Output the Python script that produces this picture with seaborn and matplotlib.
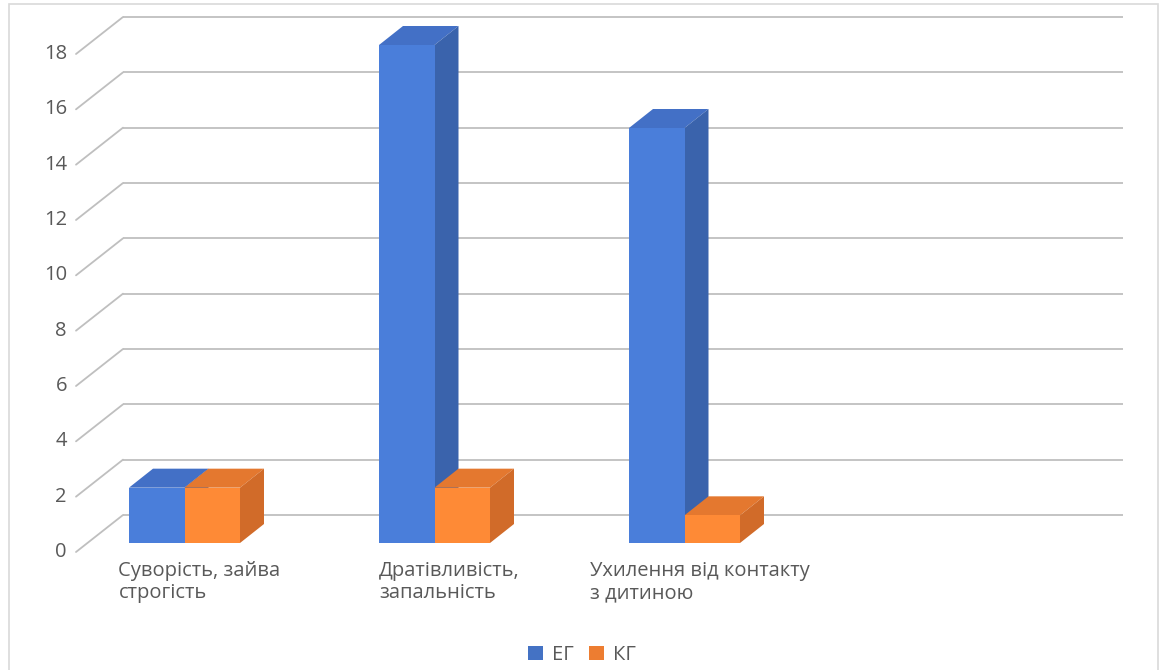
import numpy as np
import pandas as pd
import matplotlib
matplotlib.use("Agg")
import matplotlib.pyplot as plt
import seaborn as sns
from matplotlib.transforms import ScaledTranslation, IdentityTransform
from matplotlib.patches import Polygon, ConnectionPatch, Rectangle, Patch

# ---- data ----
categories = ["Суворість, зайва\nстрогість",
              "Дратівливість,\nзапальність",
              "Ухилення від контакту\nз дитиною"]
series = ["ЕГ", "КГ"]
eg_values = [2, 18, 15]
kg_values = [2, 2, 1]
y_ticks = [0, 2, 4, 6, 8, 10, 12, 14, 16, 18]

front_colors = ["#4A7EDA", "#FE8A36"]
top_colors = ["#4370C6", "#E4782F"]
side_colors = ["#3A63AC", "#D16B29"]
legend_colors = ["#4472C4", "#ED7D31"]
text_color = "#595959"
grid_color = "#BFBFBF"
FS = 14.5

df = pd.DataFrame({
    "category": categories * 2,
    "group": [series[0]] * 3 + [series[1]] * 3,
    "value": eg_values + kg_values,
})

sns.set_theme(style="white")
plt.rcParams["font.family"] = ["Open Sans", "DejaVu Sans"]

W, H, DPI = 1163, 670, 100
fig = plt.figure(figsize=(W / DPI, H / DPI), dpi=DPI)
# axes = plane of the bars' front faces
ax = fig.add_axes([88 / W, (H - 543) / H, 1000 / W, 498 / H])

sns.barplot(data=df, x="category", y="value", hue="group", order=categories,
            hue_order=series, palette=front_colors, width=0.444,
            saturation=1, legend=False, ax=ax, zorder=3,
            edgecolor="none", linewidth=0)
ax.set_xlim(-0.386, 3.614)
ax.set_ylim(0, 18)
ax.set_axis_off()


def shifted(dx, dy):
    return ax.transData + ScaledTranslation(dx / DPI, dy / DPI, fig.dpi_scale_trans)


# depth offsets in pixels: floor front edge, back wall, bar depth
front_off = (-12, -9)
back_off = (35, 28)
bar_dx, bar_dy = 24, 19

xl0, xl1 = ax.get_xlim()
for v in y_ticks:
    ax.plot([xl0, xl1], [v, v], transform=shifted(*back_off), color=grid_color,
            lw=1.3, zorder=1, clip_on=False, solid_capstyle="butt")
    con = ConnectionPatch(xyA=(xl0, v), coordsA=shifted(*front_off),
                          xyB=(xl0, v), coordsB=shifted(*back_off),
                          color=grid_color, lw=1.3, zorder=1)
    con.set_clip_on(False)
    ax.add_artist(con)
    ax.text(xl0, v, str(v), transform=shifted(front_off[0] - 9, front_off[1]),
            ha="right", va="center", fontsize=FS, color=text_color)

# draw top and side faces of every bar
fig.canvas.draw()
for si, container in enumerate(ax.containers):
    for bar in container.patches:
        x0, y0 = bar.get_x(), bar.get_y()
        x1, y1 = x0 + bar.get_width(), y0 + bar.get_height()
        (ax0, ay0), (ax1, ay1) = ax.transData.transform([(x0, y0), (x1, y1)])
        top = [(ax0, ay1), (ax1, ay1), (ax1 + bar_dx, ay1 + bar_dy), (ax0 + bar_dx, ay1 + bar_dy)]
        side = [(ax1, ay0), (ax1, ay1), (ax1 + bar_dx, ay1 + bar_dy), (ax1 + bar_dx, ay0 + bar_dy)]
        z = 3 + si * 0.5
        ax.add_patch(Polygon(top, closed=True, transform=IdentityTransform(),
                             facecolor=top_colors[si], edgecolor="none", zorder=z, clip_on=False))
        ax.add_patch(Polygon(side, closed=True, transform=IdentityTransform(),
                             facecolor=side_colors[si], edgecolor="none", zorder=z, clip_on=False))
        bar.set_zorder(z + 0.1)

# category labels
for i, cat in enumerate(categories):
    ax.text(i, 0, cat, transform=shifted(15, -18), ha="center", va="top",
            multialignment="left", fontsize=FS, color=text_color, linespacing=1.15)

handles = [Patch(facecolor=c, edgecolor="none") for c in legend_colors]
fig.legend(handles, series, loc="center", bbox_to_anchor=(582 / W, 1 - 655 / H),
           ncol=2, frameon=False, fontsize=FS, handlelength=0.7, handleheight=0.7,
           handletextpad=0.45, columnspacing=0.8, labelcolor=text_color)

fig.patches.append(Rectangle((8.5 / W, -0.1), (1158 - 8.5) / W, 1.1 - 4.5 / H,
                             transform=fig.transFigure, fill=False,
                             edgecolor="#D9D9D9", lw=1.2))

fig.savefig("out.png", dpi=DPI, facecolor="white")
